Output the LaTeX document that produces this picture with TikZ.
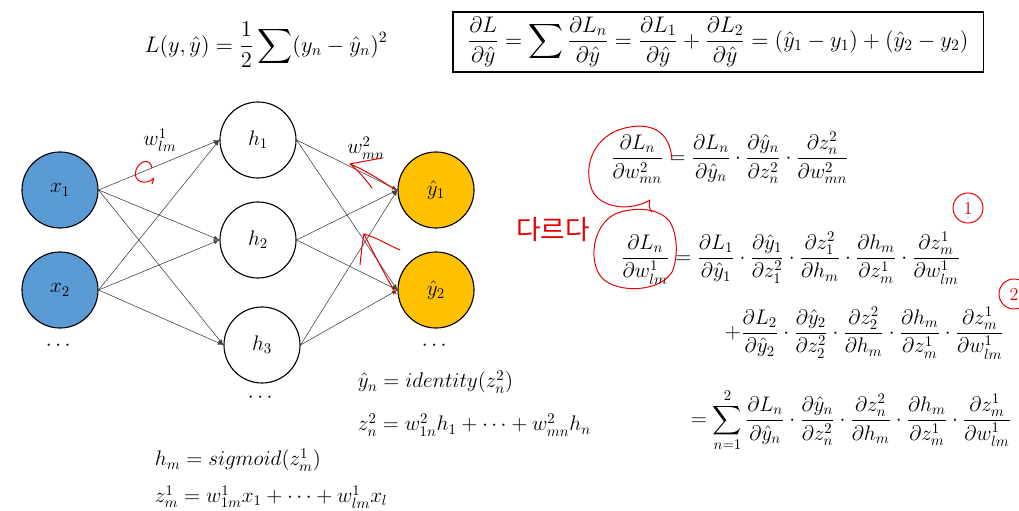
\RequirePackage{fix-cm}
\documentclass[tikz,border=0pt]{standalone}
\usepackage{amsmath}
\usepackage{fontspec}
\newfontfamily\krfont{Noto Sans CJK KR}
\usetikzlibrary{positioning,calc}
\definecolor{inBlue}{HTML}{5B9BD5}
\definecolor{outOrange}{HTML}{FFC000}
\colorlet{penRed}{red!90!black}
\colorlet{edgeGray}{black!75}

\tikzset{
  every node/.style={font=\fontsize{15}{18}\selectfont},
  bigEq/.style={font=\fontsize{16}{19}\selectfont},
  neuron/.style={draw, circle, line width=0.8pt, minimum size=1.9cm, inner sep=0pt},
  inNeuron/.style={neuron, fill=inBlue},
  outNeuron/.style={neuron, fill=outOrange},
  conn/.style={-latex, edgeGray, line width=0.4pt},
  pen/.style={penRed, line width=0.7pt, line cap=round, line join=round},
}

\begin{document}
\begin{tikzpicture}[x=0.025cm, y=-0.025cm]
        \useasboundingbox (0,0) rectangle (1019,511);
        % network
        \node[inNeuron] (x1) at (60,190) {$x_1$};
        \node[inNeuron] (x2) at (60,290) {$x_2$};
        \node[neuron] (h1) at (258,140) {$h_1$};
        \node[neuron] (h2) at (258,240) {$h_2$};
        \node[neuron] (h3) at (262,345) {$h_3$};
        \node[outNeuron] (y1) at (436,190) {$\hat{y}_1$};
        \node[outNeuron] (y2) at (436,290) {$\hat{y}_2$};
        \node (xdots) at (60,346) {$\cdots$};
        \node (hdots) at (262,398) {$\cdots$};
        \node (ydots) at (436,346) {$\cdots$};
        \draw[conn] (x1.east) -- (h1.west);
        \draw[conn] (x1.east) -- (h2.west);
        \draw[conn] (x1.east) -- (h3.west);
        \draw[conn] (x2.east) -- (h1.west);
        \draw[conn] (x2.east) -- (h2.west);
        \draw[conn] (x2.east) -- (h3.west);
        \draw[conn] (h1.east) -- (y1.west);
        \draw[conn] (h1.east) -- (y2.west);
        \draw[conn] (h2.east) -- (y1.west);
        \draw[conn] (h2.east) -- (y2.west);
        \draw[conn] (h3.east) -- (y1.west);
        \draw[conn] (h3.east) -- (y2.west);
        \node (w1) at (160,140) {$w^1_{lm}$};
        \node (w2) at (366,148) {$w^2_{mn}$};
        % loss and gradient
        \node[bigEq] (loss) at (266,45) {$L(y,\hat{y}) = \dfrac{1}{2}\displaystyle\sum(y_n-\hat{y}_n)^2$};
        \node[bigEq, draw, line width=0.8pt, minimum width=13.25cm, minimum height=1.33cm] (grad) at (718,42)
          {$\dfrac{\partial L}{\partial\hat{y}} = \displaystyle\sum\dfrac{\partial L_n}{\partial\hat{y}} = \dfrac{\partial L_1}{\partial\hat{y}}+\dfrac{\partial L_2}{\partial\hat{y}} = (\hat{y}_1-y_1)+(\hat{y}_2-y_2)$};
        % forward equations
        \node[anchor=west] (yEq) at (353,382) {$\hat{y}_n = identity(z^2_n)$};
        \node[anchor=west] (z2Eq) at (353,425) {$z^2_n = w^2_{1n}h_1+\cdots+w^2_{mn}h_n$};
        \node[anchor=west] (hEq) at (150,460) {$h_m = sigmoid(z^1_m)$};
        \node[anchor=west] (z1Eq) at (150,497) {$z^1_m = w^1_{1m}x_1+\cdots+w^1_{lm}x_l$};
        % chain rule
        \node[anchor=west] (eqA) at (606,158)
          {$\dfrac{\partial L_n}{\partial w^2_{mn}} = \dfrac{\partial L_n}{\partial\hat{y}_n}\cdot\dfrac{\partial\hat{y}_n}{\partial z^2_n}\cdot\dfrac{\partial z^2_n}{\partial w^2_{mn}}$};
        \node[anchor=west] (eqB) at (616,258)
          {$\dfrac{\partial L_n}{\partial w^1_{lm}} = \dfrac{\partial L_1}{\partial\hat{y}_1}\cdot\dfrac{\partial\hat{y}_1}{\partial z^2_1}\cdot\dfrac{\partial z^2_1}{\partial h_m}\cdot\dfrac{\partial h_m}{\partial z^1_m}\cdot\dfrac{\partial z^1_m}{\partial w^1_{lm}}$};
        \node[anchor=west] (eqC) at (720,333)
          {$+\dfrac{\partial L_2}{\partial\hat{y}_2}\cdot\dfrac{\partial\hat{y}_2}{\partial z^2_2}\cdot\dfrac{\partial z^2_2}{\partial h_m}\cdot\dfrac{\partial h_m}{\partial z^1_m}\cdot\dfrac{\partial z^1_m}{\partial w^1_{lm}}$};
        \node[anchor=west] (eqD) at (686,420)
          {$=\displaystyle\sum_{n=1}^{2}\dfrac{\partial L_n}{\partial\hat{y}_n}\cdot\dfrac{\partial\hat{y}_n}{\partial z^2_n}\cdot\dfrac{\partial z^2_n}{\partial h_m}\cdot\dfrac{\partial h_m}{\partial z^1_m}\cdot\dfrac{\partial z^1_m}{\partial w^1_{lm}}$};
        % red pen notes
        \draw[pen] (152,168) .. controls (150,158) and (140,160) .. (136,170) .. controls (132,182) and (146,186) .. (154,178) -- (152,184);
        \draw[pen] (396,190) .. controls (380,180) and (365,170) .. (350,164) -- (382,158);
        \draw[pen] (350,164) .. controls (358,170) and (366,180) .. (372,188);
        \draw[pen] (396,294) .. controls (385,275) and (372,250) .. (364,234) .. controls (378,238) and (390,246) .. (400,250);
        \draw[pen] (364,234) .. controls (362,245) and (361,255) .. (360,265);
        \draw[pen] (672,160) .. controls (670,130) and (650,122) .. (625,128) .. controls (595,135) and (582,165) .. (592,190) .. controls (600,208) and (630,212) .. (650,200) .. controls (648,205) and (650,210) .. (652,212);
        \draw[pen] (670,222) .. controls (660,208) and (635,206) .. (615,214) .. controls (592,226) and (588,262) .. (602,278) .. controls (618,294) and (660,292) .. (672,272) .. controls (676,264) and (680,240) .. (670,222);
        \node[penRed, font=\krfont\fontsize{19}{22}\selectfont] (note) at (553,230) {다르다};
        \node[pen, draw, circle, inner sep=1pt, minimum size=0.75cm, font=\fontsize{13}{15}\selectfont] (c1) at (968,208) {1};
        \node[pen, draw, circle, inner sep=1pt, minimum size=0.75cm, font=\fontsize{13}{15}\selectfont] (c2) at (1014,294) {2};
    \end{tikzpicture}
\end{document}
